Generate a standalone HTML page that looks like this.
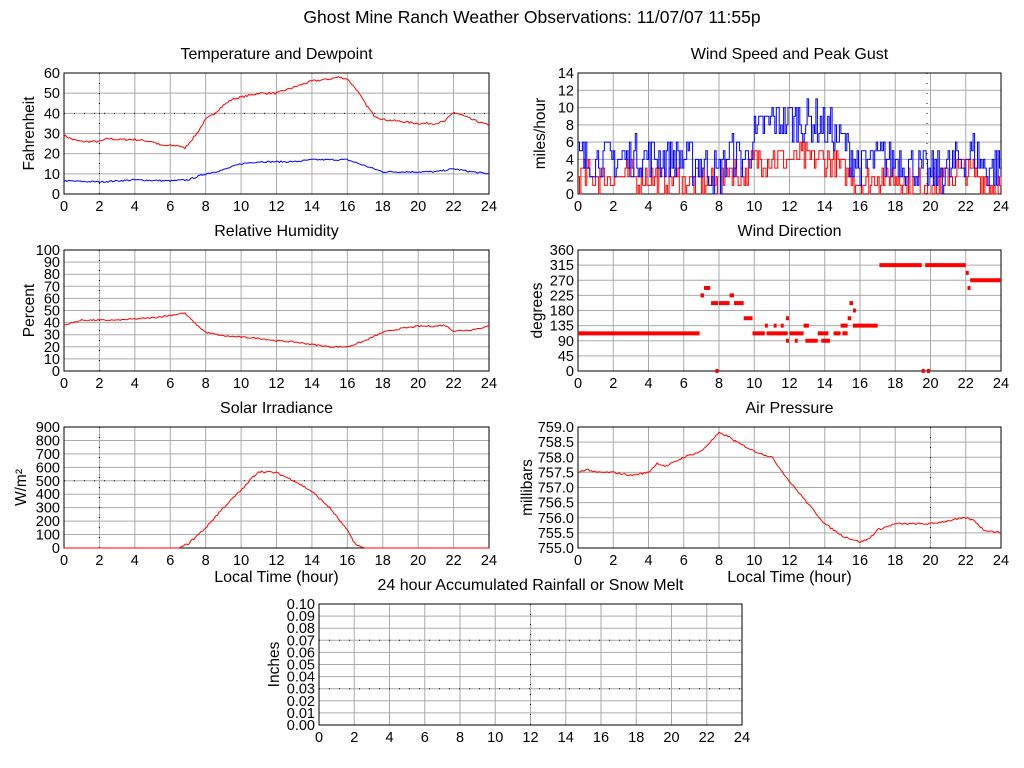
<!DOCTYPE html>
<html><head><meta charset="utf-8"><style>
body{margin:0;background:#fff;}
svg{display:block;font-family:"Liberation Sans",sans-serif;}
</style></head><body>
<svg id="s" width="1024" height="768" xmlns="http://www.w3.org/2000/svg"></svg>
<script>
var S=document.getElementById('s');var out='';
out+='<rect width="1024" height="768" fill="#fff"/>';
out+='<text x="532" y="23" font-size="17.5" text-anchor="middle">Ghost Mine Ranch Weather Observations: 11/07/07 11:55p</text>';
var seed=7;function rnd(){seed=(seed*16807)%2147483647;return seed/2147483647;}
function interp(pts,h){for(var i=0;i<pts.length-1;i++){if(h<=pts[i+1][0]){var a=pts[i],b=pts[i+1];return a[1]+(b[1]-a[1])*(h-a[0])/(b[0]-a[0]);}}return pts[pts.length-1][1];}
function panel(o){
 var x0=o.x,y0=o.y,w=o.w,h=o.h;var X=function(t){return x0+t/24*w;};var Y=function(v){return y0+h-(v-o.ymin)/(o.ymax-o.ymin)*h;};
 var g='';
 for(var t=2;t<24;t+=2)g+='<line x1="'+X(t)+'" y1="'+y0+'" x2="'+X(t)+'" y2="'+(y0+h)+'" stroke="#aaa"/>';
 for(var i=1;i<o.ticks.length-1;i++){var yy=Y(o.ticks[i]);g+='<line x1="'+x0+'" y1="'+yy+'" x2="'+(x0+w)+'" y2="'+yy+'" stroke="#aaa"/>';}
 (o.dx||[]).forEach(function(t){g+='<line x1="'+X(t)+'" y1="'+y0+'" x2="'+X(t)+'" y2="'+(y0+h)+'" stroke="#000" stroke-dasharray="1,9"/>';});
 (o.dy||[]).forEach(function(v){g+='<line x1="'+x0+'" y1="'+Y(v)+'" x2="'+(x0+w)+'" y2="'+Y(v)+'" stroke="#000" stroke-dasharray="1,9"/>';});
 g+='<rect x="'+x0+'" y="'+y0+'" width="'+w+'" height="'+h+'" fill="none" stroke="#000"/>';
 o.ticks.forEach(function(v){g+='<text x="'+(x0-4)+'" y="'+(Y(v)+5)+'" font-size="14.5" text-anchor="end">'+o.fmt(v)+'</text>';});
 for(var t=0;t<=24;t+=2)g+='<text x="'+X(t)+'" y="'+(y0+h+17)+'" font-size="14.5" text-anchor="middle">'+t+'</text>';
 g+='<text x="'+(x0+w/2)+'" y="'+(y0-14)+'" font-size="16" text-anchor="middle">'+o.title+'</text>';
 g+='<text transform="translate('+(x0-o.yo)+','+(y0+h/2)+') rotate(-90)" font-size="15.5" text-anchor="middle">'+o.ylab+'</text>';
 if(o.xlab)g+='<text x="'+(x0+w/2)+'" y="'+(y0+h+34)+'" font-size="16" text-anchor="middle">Local Time (hour)</text>';
 (o.series||[]).forEach(function(sr){var p=[];for(var k=0;k<sr.v.length;k++)p.push(X(sr.v[k][0]).toFixed(1)+','+Y(sr.v[k][1]).toFixed(1));g+='<polyline points="'+p.join(' ')+'" fill="none" stroke="'+sr.c+'" stroke-width="1"/>';});
 (o.bars||[]).forEach(function(b){g+='<rect x="'+X(b[0])+'" y="'+(Y(b[2])-2)+'" width="'+Math.max(3,X(b[1])-X(b[0]))+'" height="4" fill="#f00"/>';});
 out+=g;}
function smooth(pts,n,amp){var r=[];for(var i=0;i<=n;i++){var t=24*i/n;r.push([t,interp(pts,t)+(rnd()-0.5)*amp]);}return r;}
function step(pts,n,amp,lo){var r=[];var prev=null;for(var i=0;i<=n;i++){var t=24*i/n;var v=Math.round(interp(pts,t)+(rnd()-0.5)*amp);if(v<lo)v=lo;if(prev!==null)r.push([t,prev]);r.push([t,v]);prev=v;}return r;}
var f0=function(v){return v;};
var temp=[[0,29],[0.5,27],[1,26],[2,26],[2.5,27.5],[3,27],[4,27],[5,26],[5.5,24],[6.5,24],[6.8,22.5],[7.5,30],[8,37],[8.5,40],[9,44],[9.5,47],[10,48],[11,50],[12,50],[13,53],[14,56],[15,57],[15.5,58],[16,57],[16.5,52],[17,45],[17.5,39],[18,37],[19,36],[20,35],[21,35],[21.5,36],[22,40.5],[22.5,39],[23,37],[24,34]];
var dew=[[0,6.5],[2,6],[4,7],[6,6.5],[7,7],[8,10],[9,12],[10,15],[11,16],[12,16],[13,16],[14,17],[15,17],[16,17],[17,14],[18,11],[19,11],[20,11],[21,11],[22,12.5],[23,11],[24,10]];
panel({x:64,y:73,w:425,h:121,ymin:0,ymax:60,ticks:[0,10,20,30,40,50,60],fmt:f0,title:'Temperature and Dewpoint',ylab:'Fahrenheit',yo:30,dx:[2],dy:[40],
 series:[{c:'#f00',v:smooth(temp,288,1)},{c:'#00f',v:smooth(dew,288,0.8)}]});
var gust=[[0,4],[2,4],[4,4.5],[6,4],[7.5,3],[8,2],[8.5,5],[9.5,4],[10,6.5],[11,8.5],[12,8.5],[13,8.5],[14,8],[15,6],[16,3],[17,4],[18,4],[19,3],[20,2],[21,3],[22,4.5],[22.5,5],[23,3],[24,3]];
var spd=[[0,2],[2,2],[4,2],[6,1.5],[8,1],[8.5,3],[9.5,2],[10,4],[12,4],[14,4],[15,3],[16,1],[17,2],[18,2],[19,1.5],[20,1],[21,2],[22,3],[23,1.5],[24,1]];
panel({x:578,y:73,w:423,h:121,ymin:0,ymax:14,ticks:[0,2,4,6,8,10,12,14],fmt:f0,title:'Wind Speed and Peak Gust',ylab:'miles/hour',yo:33,dx:[19.8],
 series:[{c:'#f00',v:step(spd,288,3.5,0)},{c:'#00f',v:step(gust,288,5,0)}]});
var rh=[[0,38],[1,42],[2,42],[3,42],[4,43],[5,44],[6,46],[6.8,48],[7.5,38],[8,32],[9,29],[10,28],[11,27],[12,25],[13,24],[14,22],[15,20],[16,20],[17,25],[18,32],[19,35],[20,37],[21,37],[21.5,38],[22,33],[23,34],[24,37]];
panel({x:64,y:250,w:425,h:121,ymin:0,ymax:100,ticks:[0,10,20,30,40,50,60,70,80,90,100],fmt:f0,title:'Relative Humidity',ylab:'Percent',yo:30,dx:[2],
 series:[{c:'#f00',v:smooth(rh,288,1.2)}]});
var bars=[[0,6.9,112],[6.95,7.15,225],[7.15,7.5,247],[7.55,7.95,202],[7.8,7.9,0],[8,8.6,202],[8.6,8.85,225],[8.85,9.4,202],[9.4,9.9,157],[9.9,10.6,112],[10.6,10.7,135],[10.7,11.9,112],[11.1,11.2,135],[11.5,11.6,135],[11.8,11.9,157],[11.8,11.9,90],[12,12.8,112],[12.3,12.4,90],[12.8,13.1,135],[12.9,13.6,90],[13.6,14.2,112],[13.8,14.3,90],[14.5,14.9,112],[14.9,15.3,135],[15.0,15.3,112],[15.3,15.5,157],[15.4,15.6,202],[15.6,15.7,180],[15.6,17,135],[17.1,19.5,315],[19.5,19.6,0],[19.8,19.9,0],[19.7,22,315],[22,22.1,292],[22.1,22.25,247],[22.25,24,270]];
panel({x:578,y:250,w:423,h:121,ymin:0,ymax:360,ticks:[0,45,90,135,180,225,270,315,360],fmt:f0,title:'Wind Direction',ylab:'degrees',yo:36,bars:bars});
var sol=[[0,0],[6.5,0],[7,30],[8,150],[9,300],[10,430],[10.3,470],[10.6,520],[11,570],[12,560],[13,500],[14,420],[15,300],[16,130],[16.5,20],[17,0],[24,0]];
var solv=smooth(sol,288,0).map(function(p){var v=p[1];if(v>10)v+=(rnd()-0.5)*15;return [p[0],v];});
panel({x:64,y:427,w:425,h:121,ymin:0,ymax:900,ticks:[0,100,200,300,400,500,600,700,800,900],fmt:f0,title:'Solar Irradiance',ylab:'W/m²',yo:38,xlab:1,dx:[2],dy:[500],
 series:[{c:'#f00',v:solv}]});
var pr=[[0,757.5],[0.5,757.6],[1,757.5],[2,757.5],[3,757.4],[4,757.5],[4.5,757.8],[5,757.7],[6,758],[7,758.2],[7.5,758.5],[8,758.8],[8.5,758.7],[9,758.5],[10,758.2],[11,758],[12,757.2],[13,756.5],[14,755.8],[15,755.4],[16,755.2],[16.5,755.3],[17,755.6],[18,755.8],[19,755.8],[20,755.8],[21,755.9],[22,756],[22.5,755.9],[23,755.6],[24,755.5]];
panel({x:578,y:427,w:423,h:121,ymin:755,ymax:759,ticks:[755,755.5,756,756.5,757,757.5,758,758.5,759],fmt:function(v){return v.toFixed(1);},title:'Air Pressure',ylab:'millibars',yo:46,xlab:1,dx:[20],
 series:[{c:'#f00',v:smooth(pr,288,0.06)}]});
panel({x:319,y:604,w:423,h:121,ymin:0,ymax:0.1,ticks:[0,0.01,0.02,0.03,0.04,0.05,0.06,0.07,0.08,0.09,0.1],fmt:function(v){return v.toFixed(2);},title:'24 hour Accumulated Rainfall or Snow Melt',ylab:'Inches',yo:40,dx:[12],dy:[0.03,0.07]});
S.innerHTML=out;
</script>
</body></html>
